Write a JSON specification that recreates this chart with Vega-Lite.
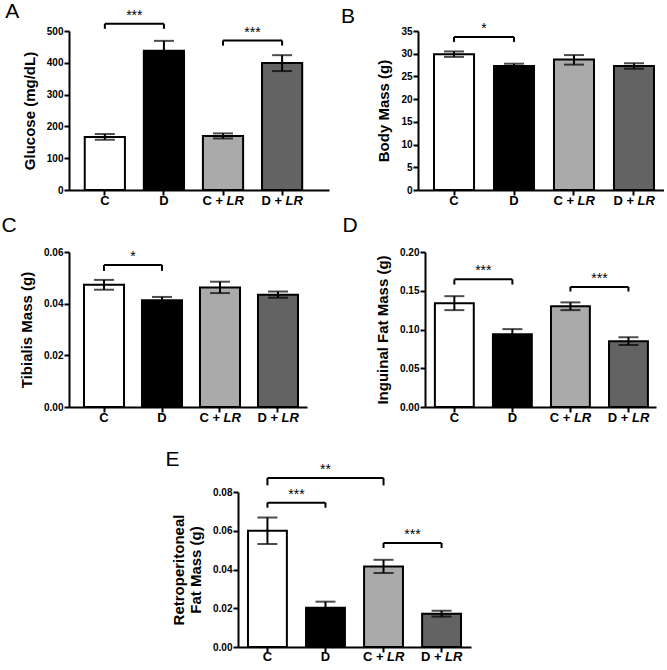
{
  "$schema": "https://vega.github.io/schema/vega-lite/v6.json",
  "padding": {"left": 1, "top": 0, "right": 0, "bottom": 0},
  "background": "white",
  "datasets": {
    "groups": [
      {"g": "C", "lab": "C", "pre": "", "post": ""},
      {"g": "D", "lab": "D", "pre": "", "post": ""},
      {"g": "C + LR", "lab": "", "pre": "C +", "post": "LR"},
      {"g": "D + LR", "lab": "", "pre": "D +", "post": "LR"}
    ],
    "A": [
      {"g": "C", "mean": 167, "lo": 158, "hi": 176},
      {"g": "D", "mean": 438, "lo": 407, "hi": 469},
      {"g": "C + LR", "mean": 170, "lo": 162, "hi": 178},
      {"g": "D + LR", "mean": 399, "lo": 374, "hi": 424}
    ],
    "A_br": [
      {"g1": "C", "g2": "D", "y": 523, "y0": 507, "star": "***"},
      {"g1": "C + LR", "g2": "D + LR", "y": 470, "y0": 454, "star": "***"}
    ],
    "B": [
      {"g": "C", "mean": 29.9, "lo": 29.3, "hi": 30.5},
      {"g": "D", "mean": 27.3, "lo": 26.8, "hi": 27.8},
      {"g": "C + LR", "mean": 28.7, "lo": 27.6, "hi": 29.7},
      {"g": "D + LR", "mean": 27.3, "lo": 26.7, "hi": 27.9}
    ],
    "B_br": [
      {"g1": "C", "g2": "D", "y": 33.7, "y0": 32.6, "star": "*"}
    ],
    "C": [
      {"g": "C", "mean": 0.0473, "lo": 0.0454, "hi": 0.0492},
      {"g": "D", "mean": 0.0413, "lo": 0.04, "hi": 0.0426},
      {"g": "C + LR", "mean": 0.0463, "lo": 0.0441, "hi": 0.0485},
      {"g": "D + LR", "mean": 0.0435, "lo": 0.0423, "hi": 0.0447}
    ],
    "C_br": [
      {"g1": "C", "g2": "D", "y": 0.055, "y0": 0.0527, "star": "*"}
    ],
    "D": [
      {"g": "C", "mean": 0.134, "lo": 0.125, "hi": 0.143},
      {"g": "D", "mean": 0.094, "lo": 0.0875, "hi": 0.1005},
      {"g": "C + LR", "mean": 0.13, "lo": 0.125, "hi": 0.135},
      {"g": "D + LR", "mean": 0.085, "lo": 0.08, "hi": 0.09}
    ],
    "D_br": [
      {"g1": "C", "g2": "D", "y": 0.1647, "y0": 0.158, "star": "***"},
      {"g1": "C + LR", "g2": "D + LR", "y": 0.155, "y0": 0.149, "star": "***"}
    ],
    "E": [
      {"g": "C", "mean": 0.06, "lo": 0.0532, "hi": 0.0668},
      {"g": "D", "mean": 0.0203, "lo": 0.0172, "hi": 0.0234},
      {"g": "C + LR", "mean": 0.0416, "lo": 0.0382, "hi": 0.045},
      {"g": "D + LR", "mean": 0.0172, "lo": 0.0157, "hi": 0.0187}
    ],
    "E_br": [
      {"g1": "C", "g2": "D", "y": 0.0745, "y0": 0.0719, "star": "***"},
      {"g1": "C + LR", "g2": "D + LR", "y": 0.0537, "y0": 0.0511, "star": "***"}
    ],
    "E_br2": [
      {"g1": "C", "g2": "C + LR", "sg": "D", "y": 0.0872, "y0": 0.0834, "star": "**"}
    ]
  },
  "config": {
    "view": {"stroke": null},
    "font": "Liberation Sans",
    "axis": {
      "domainColor": "black", "domainWidth": 2, "tickColor": "black", "tickWidth": 2, "tickSize": 5,
      "labelColor": "black", "labelFont": "Liberation Sans", "labelFontWeight": "bold", "labelFontSize": 10,
      "labelPadding": 1, "labelOverlap": false, "labelBound": false, "labelFlush": false,
      "titleFont": "Liberation Sans", "titleFontWeight": "bold", "titleFontSize": 15,
      "titleColor": "black", "titlePadding": 9, "grid": false
    },
    "title": {"font": "Liberation Sans", "fontSize": 21, "fontWeight": "normal", "anchor": "start", "frame": "bounds", "baseline": "alphabetic", "color": "black"},
    "text": {"font": "Liberation Sans", "color": "black"}
  },
  "spacing": 24,
  "vconcat": [
    {
      "spacing": 7,
      "vconcat": [
        {
          "spacing": 89,
          "bounds": "flush",
          "hconcat": [
            {
              "title": {"text": "A", "dx": -17, "offset": -13},
              "width": 260, "height": 159,
              "layer": [
                {"data": {"name": "A"}, "mark": {"type": "bar", "stroke": "black", "strokeWidth": 2},
                 "encoding": {
                   "x": {"field": "g", "type": "nominal", "scale": {"domain": ["C", "D", "C + LR", "D + LR"], "paddingInner": 0.32, "paddingOuter": 0.36, "align": 0.37}, "axis": {"title": null, "labels": false}},
                   "y": {"field": "mean", "type": "quantitative", "scale": {"domain": [0, 500], "nice": false}, "axis": {"title": "Glucose (mg/dL)", "values": [0, 100, 200, 300, 400, 500], "tickCount": 20, "format": "d", "labelOverlap": false}},
                   "fill": {"field": "g", "type": "nominal", "scale": {"domain": ["C", "D", "C + LR", "D + LR"], "range": ["white", "black", "#aaaaaa", "#636363"]}, "legend": null}
                 }},
                {"data": {"name": "A"}, "mark": {"type": "rule", "strokeWidth": 2, "color": "black"}, "encoding": {"x": {"field": "g", "type": "nominal"}, "y": {"field": "lo", "type": "quantitative"}, "y2": {"field": "hi"}}},
                {"data": {"name": "A"}, "mark": {"type": "tick", "size": 20, "thickness": 2, "color": "black"}, "encoding": {"x": {"field": "g", "type": "nominal"}, "y": {"field": "lo", "type": "quantitative"}}},
                {"data": {"name": "A"}, "mark": {"type": "tick", "size": 20, "thickness": 2, "color": "black"}, "encoding": {"x": {"field": "g", "type": "nominal"}, "y": {"field": "hi", "type": "quantitative"}}},
                {"data": {"name": "A_br"}, "mark": {"type": "rule", "strokeWidth": 2, "color": "black"}, "encoding": {"x": {"field": "g1", "type": "nominal"}, "x2": {"field": "g2"}, "y": {"field": "y", "type": "quantitative"}}},
                {"data": {"name": "A_br"}, "mark": {"type": "rule", "strokeWidth": 2, "color": "black"}, "encoding": {"x": {"field": "g1", "type": "nominal"}, "y": {"field": "y", "type": "quantitative"}, "y2": {"field": "y0"}}},
                {"data": {"name": "A_br"}, "mark": {"type": "rule", "strokeWidth": 2, "color": "black"}, "encoding": {"x": {"field": "g2", "type": "nominal"}, "y": {"field": "y", "type": "quantitative"}, "y2": {"field": "y0"}}},
                {"data": {"name": "A_br"}, "mark": {"type": "text", "dx": 29.5, "dy": -4, "baseline": "alphabetic", "fontSize": 14}, "encoding": {"x": {"field": "g1", "type": "nominal"}, "y": {"field": "y", "type": "quantitative"}, "text": {"field": "star"}}},
                {"data": {"name": "groups"}, "mark": {"type": "text", "dy": 15, "baseline": "alphabetic", "fontSize": 13, "fontWeight": "bold"}, "encoding": {"x": {"field": "g", "type": "nominal"}, "y": {"datum": 0}, "text": {"field": "lab"}}},
                {"data": {"name": "groups"}, "mark": {"type": "text", "dy": 15, "baseline": "alphabetic", "align": "right", "fontSize": 13, "fontWeight": "bold"}, "encoding": {"x": {"field": "g", "type": "nominal"}, "y": {"datum": 0}, "text": {"field": "pre"}}},
                {"data": {"name": "groups"}, "mark": {"type": "text", "dx": 3.5, "dy": 15, "baseline": "alphabetic", "align": "left", "fontSize": 13, "fontWeight": "bold", "fontStyle": "italic"}, "encoding": {"x": {"field": "g", "type": "nominal"}, "y": {"datum": 0}, "text": {"field": "post"}}}
              ]
            },
            {
              "title": {"text": "B", "dx": -36, "offset": -5},
              "width": 246, "height": 159,
              "layer": [
                {"data": {"name": "B"}, "mark": {"type": "bar", "stroke": "black", "strokeWidth": 2},
                 "encoding": {
                   "x": {"field": "g", "type": "nominal", "scale": {"domain": ["C", "D", "C + LR", "D + LR"], "paddingInner": 0.333, "paddingOuter": 0.217, "align": 0.615}, "axis": {"title": null, "labels": false}},
                   "y": {"field": "mean", "type": "quantitative", "scale": {"domain": [0, 35], "nice": false}, "axis": {"title": "Body Mass (g)", "values": [0, 5, 10, 15, 20, 25, 30, 35], "tickCount": 20, "format": "d", "labelOverlap": false}},
                   "fill": {"field": "g", "type": "nominal", "scale": {"domain": ["C", "D", "C + LR", "D + LR"], "range": ["white", "black", "#aaaaaa", "#636363"]}, "legend": null}
                 }},
                {"data": {"name": "B"}, "mark": {"type": "rule", "strokeWidth": 2, "color": "black"}, "encoding": {"x": {"field": "g", "type": "nominal"}, "y": {"field": "lo", "type": "quantitative"}, "y2": {"field": "hi"}}},
                {"data": {"name": "B"}, "mark": {"type": "tick", "size": 20, "thickness": 2, "color": "black"}, "encoding": {"x": {"field": "g", "type": "nominal"}, "y": {"field": "lo", "type": "quantitative"}}},
                {"data": {"name": "B"}, "mark": {"type": "tick", "size": 20, "thickness": 2, "color": "black"}, "encoding": {"x": {"field": "g", "type": "nominal"}, "y": {"field": "hi", "type": "quantitative"}}},
                {"data": {"name": "B_br"}, "mark": {"type": "rule", "strokeWidth": 2, "color": "black"}, "encoding": {"x": {"field": "g1", "type": "nominal"}, "x2": {"field": "g2"}, "y": {"field": "y", "type": "quantitative"}}},
                {"data": {"name": "B_br"}, "mark": {"type": "rule", "strokeWidth": 2, "color": "black"}, "encoding": {"x": {"field": "g1", "type": "nominal"}, "y": {"field": "y", "type": "quantitative"}, "y2": {"field": "y0"}}},
                {"data": {"name": "B_br"}, "mark": {"type": "rule", "strokeWidth": 2, "color": "black"}, "encoding": {"x": {"field": "g2", "type": "nominal"}, "y": {"field": "y", "type": "quantitative"}, "y2": {"field": "y0"}}},
                {"data": {"name": "B_br"}, "mark": {"type": "text", "dx": 30, "dy": -4, "baseline": "alphabetic", "fontSize": 14}, "encoding": {"x": {"field": "g1", "type": "nominal"}, "y": {"field": "y", "type": "quantitative"}, "text": {"field": "star"}}},
                {"data": {"name": "groups"}, "mark": {"type": "text", "dy": 15, "baseline": "alphabetic", "fontSize": 13, "fontWeight": "bold"}, "encoding": {"x": {"field": "g", "type": "nominal"}, "y": {"datum": 0}, "text": {"field": "lab"}}},
                {"data": {"name": "groups"}, "mark": {"type": "text", "dy": 15, "baseline": "alphabetic", "align": "right", "fontSize": 13, "fontWeight": "bold"}, "encoding": {"x": {"field": "g", "type": "nominal"}, "y": {"datum": 0}, "text": {"field": "pre"}}},
                {"data": {"name": "groups"}, "mark": {"type": "text", "dx": 3.5, "dy": 15, "baseline": "alphabetic", "align": "left", "fontSize": 13, "fontWeight": "bold", "fontStyle": "italic"}, "encoding": {"x": {"field": "g", "type": "nominal"}, "y": {"datum": 0}, "text": {"field": "post"}}}
              ]
            }
          ]
        },
        {
          "spacing": 118,
          "bounds": "flush",
          "hconcat": [
            {
              "title": {"text": "C", "dx": -18, "offset": 11},
              "width": 238, "height": 155,
              "layer": [
                {"data": {"name": "C"}, "mark": {"type": "bar", "stroke": "black", "strokeWidth": 2},
                 "encoding": {
                   "x": {"field": "g", "type": "nominal", "scale": {"domain": ["C", "D", "C + LR", "D + LR"], "paddingInner": 0.31, "paddingOuter": 0.207, "align": 0.625}, "axis": {"title": null, "labels": false}},
                   "y": {"field": "mean", "type": "quantitative", "scale": {"domain": [0, 0.06], "nice": false}, "axis": {"title": "Tibialis Mass (g)", "values": [0, 0.02, 0.04, 0.06], "tickCount": 20, "format": ".2f", "labelOverlap": false}},
                   "fill": {"field": "g", "type": "nominal", "scale": {"domain": ["C", "D", "C + LR", "D + LR"], "range": ["white", "black", "#aaaaaa", "#636363"]}, "legend": null}
                 }},
                {"data": {"name": "C"}, "mark": {"type": "rule", "strokeWidth": 2, "color": "black"}, "encoding": {"x": {"field": "g", "type": "nominal"}, "y": {"field": "lo", "type": "quantitative"}, "y2": {"field": "hi"}}},
                {"data": {"name": "C"}, "mark": {"type": "tick", "size": 20, "thickness": 2, "color": "black"}, "encoding": {"x": {"field": "g", "type": "nominal"}, "y": {"field": "lo", "type": "quantitative"}}},
                {"data": {"name": "C"}, "mark": {"type": "tick", "size": 20, "thickness": 2, "color": "black"}, "encoding": {"x": {"field": "g", "type": "nominal"}, "y": {"field": "hi", "type": "quantitative"}}},
                {"data": {"name": "C_br"}, "mark": {"type": "rule", "strokeWidth": 2, "color": "black"}, "encoding": {"x": {"field": "g1", "type": "nominal"}, "x2": {"field": "g2"}, "y": {"field": "y", "type": "quantitative"}}},
                {"data": {"name": "C_br"}, "mark": {"type": "rule", "strokeWidth": 2, "color": "black"}, "encoding": {"x": {"field": "g1", "type": "nominal"}, "y": {"field": "y", "type": "quantitative"}, "y2": {"field": "y0"}}},
                {"data": {"name": "C_br"}, "mark": {"type": "rule", "strokeWidth": 2, "color": "black"}, "encoding": {"x": {"field": "g2", "type": "nominal"}, "y": {"field": "y", "type": "quantitative"}, "y2": {"field": "y0"}}},
                {"data": {"name": "C_br"}, "mark": {"type": "text", "dx": 29, "dy": -4, "baseline": "alphabetic", "fontSize": 14}, "encoding": {"x": {"field": "g1", "type": "nominal"}, "y": {"field": "y", "type": "quantitative"}, "text": {"field": "star"}}},
                {"data": {"name": "groups"}, "mark": {"type": "text", "dy": 15, "baseline": "alphabetic", "fontSize": 13, "fontWeight": "bold"}, "encoding": {"x": {"field": "g", "type": "nominal"}, "y": {"datum": 0}, "text": {"field": "lab"}}},
                {"data": {"name": "groups"}, "mark": {"type": "text", "dy": 15, "baseline": "alphabetic", "align": "right", "fontSize": 13, "fontWeight": "bold"}, "encoding": {"x": {"field": "g", "type": "nominal"}, "y": {"datum": 0}, "text": {"field": "pre"}}},
                {"data": {"name": "groups"}, "mark": {"type": "text", "dx": 3.5, "dy": 15, "baseline": "alphabetic", "align": "left", "fontSize": 13, "fontWeight": "bold", "fontStyle": "italic"}, "encoding": {"x": {"field": "g", "type": "nominal"}, "y": {"datum": 0}, "text": {"field": "post"}}}
              ]
            },
            {
              "title": {"text": "D", "dx": -33, "offset": 11},
              "width": 231, "height": 155,
              "layer": [
                {"data": {"name": "D"}, "mark": {"type": "bar", "stroke": "black", "strokeWidth": 2},
                 "encoding": {
                   "x": {"field": "g", "type": "nominal", "scale": {"domain": ["C", "D", "C + LR", "D + LR"], "paddingInner": 0.33, "paddingOuter": 0.155, "align": 0.55}, "axis": {"title": null, "labels": false}},
                   "y": {"field": "mean", "type": "quantitative", "scale": {"domain": [0, 0.2], "nice": false}, "axis": {"title": "Inguinal Fat Mass (g)", "values": [0, 0.05, 0.1, 0.15, 0.2], "tickCount": 20, "format": ".2f", "labelOverlap": false}},
                   "fill": {"field": "g", "type": "nominal", "scale": {"domain": ["C", "D", "C + LR", "D + LR"], "range": ["white", "black", "#aaaaaa", "#636363"]}, "legend": null}
                 }},
                {"data": {"name": "D"}, "mark": {"type": "rule", "strokeWidth": 2, "color": "black"}, "encoding": {"x": {"field": "g", "type": "nominal"}, "y": {"field": "lo", "type": "quantitative"}, "y2": {"field": "hi"}}},
                {"data": {"name": "D"}, "mark": {"type": "tick", "size": 20, "thickness": 2, "color": "black"}, "encoding": {"x": {"field": "g", "type": "nominal"}, "y": {"field": "lo", "type": "quantitative"}}},
                {"data": {"name": "D"}, "mark": {"type": "tick", "size": 20, "thickness": 2, "color": "black"}, "encoding": {"x": {"field": "g", "type": "nominal"}, "y": {"field": "hi", "type": "quantitative"}}},
                {"data": {"name": "D_br"}, "mark": {"type": "rule", "strokeWidth": 2, "color": "black"}, "encoding": {"x": {"field": "g1", "type": "nominal"}, "x2": {"field": "g2"}, "y": {"field": "y", "type": "quantitative"}}},
                {"data": {"name": "D_br"}, "mark": {"type": "rule", "strokeWidth": 2, "color": "black"}, "encoding": {"x": {"field": "g1", "type": "nominal"}, "y": {"field": "y", "type": "quantitative"}, "y2": {"field": "y0"}}},
                {"data": {"name": "D_br"}, "mark": {"type": "rule", "strokeWidth": 2, "color": "black"}, "encoding": {"x": {"field": "g2", "type": "nominal"}, "y": {"field": "y", "type": "quantitative"}, "y2": {"field": "y0"}}},
                {"data": {"name": "D_br"}, "mark": {"type": "text", "dx": 29, "dy": -4, "baseline": "alphabetic", "fontSize": 14}, "encoding": {"x": {"field": "g1", "type": "nominal"}, "y": {"field": "y", "type": "quantitative"}, "text": {"field": "star"}}},
                {"data": {"name": "groups"}, "mark": {"type": "text", "dy": 15, "baseline": "alphabetic", "fontSize": 13, "fontWeight": "bold"}, "encoding": {"x": {"field": "g", "type": "nominal"}, "y": {"datum": 0}, "text": {"field": "lab"}}},
                {"data": {"name": "groups"}, "mark": {"type": "text", "dy": 15, "baseline": "alphabetic", "align": "right", "fontSize": 13, "fontWeight": "bold"}, "encoding": {"x": {"field": "g", "type": "nominal"}, "y": {"datum": 0}, "text": {"field": "pre"}}},
                {"data": {"name": "groups"}, "mark": {"type": "text", "dx": 3.5, "dy": 15, "baseline": "alphabetic", "align": "left", "fontSize": 13, "fontWeight": "bold", "fontStyle": "italic"}, "encoding": {"x": {"field": "g", "type": "nominal"}, "y": {"datum": 0}, "text": {"field": "post"}}}
              ]
            }
          ]
        }
      ]
    },
    {
      "spacing": 0,
      "bounds": "flush",
      "hconcat": [
        {"width": 169, "height": 155, "data": {"values": []}, "mark": {"type": "point", "opacity": 0}, "encoding": {}},
        {
          "title": {"text": "E", "dx": -6, "offset": -7},
          "width": 233, "height": 155,
          "layer": [
            {"data": {"name": "E"}, "mark": {"type": "bar", "stroke": "black", "strokeWidth": 2},
             "encoding": {
               "x": {"field": "g", "type": "nominal", "scale": {"domain": ["C", "D", "C + LR", "D + LR"], "paddingInner": 0.33, "paddingOuter": 0.172, "align": 0.5}, "axis": {"title": null, "labels": false}},
               "y": {"field": "mean", "type": "quantitative", "scale": {"domain": [0, 0.08], "nice": false}, "axis": {"title": ["Retroperitoneal", "Fat Mass (g)"], "titleLineHeight": 17, "values": [0, 0.02, 0.04, 0.06, 0.08], "tickCount": 20, "format": ".2f", "labelOverlap": false}},
               "fill": {"field": "g", "type": "nominal", "scale": {"domain": ["C", "D", "C + LR", "D + LR"], "range": ["white", "black", "#aaaaaa", "#636363"]}, "legend": null}
             }},
            {"data": {"name": "E"}, "mark": {"type": "rule", "strokeWidth": 2, "color": "black"}, "encoding": {"x": {"field": "g", "type": "nominal"}, "y": {"field": "lo", "type": "quantitative"}, "y2": {"field": "hi"}}},
            {"data": {"name": "E"}, "mark": {"type": "tick", "size": 20, "thickness": 2, "color": "black"}, "encoding": {"x": {"field": "g", "type": "nominal"}, "y": {"field": "lo", "type": "quantitative"}}},
            {"data": {"name": "E"}, "mark": {"type": "tick", "size": 20, "thickness": 2, "color": "black"}, "encoding": {"x": {"field": "g", "type": "nominal"}, "y": {"field": "hi", "type": "quantitative"}}},
            {"data": {"name": "E_br"}, "mark": {"type": "rule", "strokeWidth": 2, "color": "black"}, "encoding": {"x": {"field": "g1", "type": "nominal"}, "x2": {"field": "g2"}, "y": {"field": "y", "type": "quantitative"}}},
            {"data": {"name": "E_br"}, "mark": {"type": "rule", "strokeWidth": 2, "color": "black"}, "encoding": {"x": {"field": "g1", "type": "nominal"}, "y": {"field": "y", "type": "quantitative"}, "y2": {"field": "y0"}}},
            {"data": {"name": "E_br"}, "mark": {"type": "rule", "strokeWidth": 2, "color": "black"}, "encoding": {"x": {"field": "g2", "type": "nominal"}, "y": {"field": "y", "type": "quantitative"}, "y2": {"field": "y0"}}},
            {"data": {"name": "E_br"}, "mark": {"type": "text", "dx": 29, "dy": -4, "baseline": "alphabetic", "fontSize": 14}, "encoding": {"x": {"field": "g1", "type": "nominal"}, "y": {"field": "y", "type": "quantitative"}, "text": {"field": "star"}}},
            {"data": {"name": "E_br2"}, "mark": {"type": "rule", "strokeWidth": 2, "color": "black"}, "encoding": {"x": {"field": "g1", "type": "nominal"}, "x2": {"field": "g2"}, "y": {"field": "y", "type": "quantitative"}}},
            {"data": {"name": "E_br2"}, "mark": {"type": "rule", "strokeWidth": 2, "color": "black"}, "encoding": {"x": {"field": "g1", "type": "nominal"}, "y": {"field": "y", "type": "quantitative"}, "y2": {"field": "y0"}}},
            {"data": {"name": "E_br2"}, "mark": {"type": "rule", "strokeWidth": 2, "color": "black"}, "encoding": {"x": {"field": "g2", "type": "nominal"}, "y": {"field": "y", "type": "quantitative"}, "y2": {"field": "y0"}}},
            {"data": {"name": "E_br2"}, "mark": {"type": "text", "dy": -4, "baseline": "alphabetic", "fontSize": 14}, "encoding": {"x": {"field": "sg", "type": "nominal"}, "y": {"field": "y", "type": "quantitative"}, "text": {"field": "star"}}},
            {"data": {"name": "groups"}, "mark": {"type": "text", "dy": 14, "baseline": "alphabetic", "fontSize": 13, "fontWeight": "bold"}, "encoding": {"x": {"field": "g", "type": "nominal"}, "y": {"datum": 0}, "text": {"field": "lab"}}},
            {"data": {"name": "groups"}, "mark": {"type": "text", "dy": 14, "baseline": "alphabetic", "align": "right", "fontSize": 13, "fontWeight": "bold"}, "encoding": {"x": {"field": "g", "type": "nominal"}, "y": {"datum": 0}, "text": {"field": "pre"}}},
            {"data": {"name": "groups"}, "mark": {"type": "text", "dx": 3.5, "dy": 14, "baseline": "alphabetic", "align": "left", "fontSize": 13, "fontWeight": "bold", "fontStyle": "italic"}, "encoding": {"x": {"field": "g", "type": "nominal"}, "y": {"datum": 0}, "text": {"field": "post"}}}
          ]
        }
      ]
    }
  ]
}
